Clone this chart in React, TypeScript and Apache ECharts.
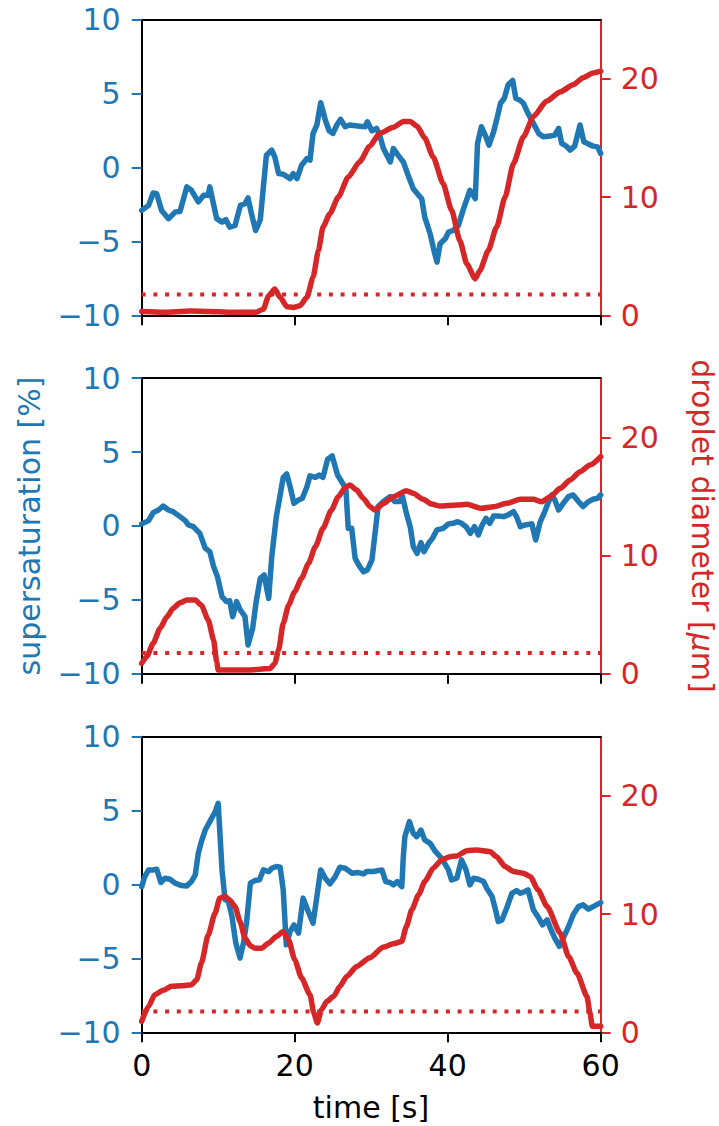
import React, { useEffect, useRef } from "react";
import * as echarts from "echarts";

const BLUE = "#1f77b4";
const RED = "#d62728";
const FONT = "DejaVu Sans";

const xTicks = [0, 20, 40, 60];
const satTicks = [-10, -5, 0, 5, 10];
const diamTicks = [0, 10, 20];
const threshold = 1.75;

const sat1: number[][] = [[0,-2.9],[0.9,-2.56],[1.5,-1.72],[1.96,-1.77],[2.6,-2.9],[3.5,-3.46],[4.4,-3.0],[5,-2.97],[5.9,-1.31],[6.5,-1.54],[7.4,-2.33],[8.1,-1.88],[8.7,-1.88],[8.9,-1.31],[9.8,-3.46],[10.5,-3.69],[11,-3.53],[11.5,-4.03],[12.2,-3.92],[12.9,-2.56],[13.5,-2.45],[13.9,-2.06],[14.4,-3.24],[14.9,-4.26],[15.5,-3.53],[16.3,0.84],[17,1.18],[17.4,0.72],[17.9,-0.41],[18.5,-0.45],[19.4,-0.75],[19.8,-0.41],[20.3,-0.75],[20.9,0.16],[21.6,0.61],[22,0.5],[22.4,2.31],[22.9,2.88],[23.4,4.39],[24,3.22],[24.5,2.49],[25,2.31],[25.5,2.88],[26,3.26],[26.6,2.76],[27.2,2.88],[28.5,2.8],[29.2,2.76],[29.5,3.1],[30.1,2.49],[30.7,2.65],[31.1,2.2],[31.6,1.29],[32.5,0.38],[32.9,1.29],[33.5,0.84],[34.2,0.38],[34.9,-0.63],[35.5,-1.43],[36.2,-1.88],[36.6,-2.1],[37,-3.35],[37.7,-4.48],[38.2,-5.6],[38.6,-6.4],[39,-5.16],[39.7,-4.8],[40.1,-4.37],[40.7,-4.26],[41.4,-3.92],[42,-2.9],[42.9,-1.54],[43.6,-2.1],[43.9,1.63],[44.4,2.76],[44.9,2.2],[45.4,1.52],[46,2.42],[46.5,3.44],[46.9,4.35],[47.4,4.69],[47.9,5.6],[48.5,5.89],[48.9,4.69],[49.4,4.57],[49.9,4.35],[50.5,3.67],[51.2,2.99],[51.9,2.31],[52.5,2.08],[53.4,2.13],[54,2.2],[54.5,2.65],[54.9,1.63],[55.5,1.45],[56,1.18],[56.6,1.45],[57.3,2.88],[57.8,1.74],[58.4,1.59],[59,1.45],[59.6,1.4],[60,0.95]];

const diam1: number[][] = [[0,0.33],[2.8,0.26],[6.3,0.36],[8.9,0.33],[11.5,0.26],[15,0.26],[15.9,0.52],[16.6,1.66],[17.4,2.22],[18.1,1.52],[19,0.72],[19.8,0.67],[20.7,0.81],[21.6,1.52],[22.4,3.22],[23.1,5.48],[23.7,7.47],[24.6,8.6],[25.7,10.0],[27,11.7],[28.5,13.0],[29.8,14.3],[31.1,15.4],[32.9,15.9],[34.2,16.4],[35.1,16.4],[36,16.0],[37,15.0],[38.1,13.4],[39.4,11.15],[40.5,8.9],[41.6,6.3],[42.5,4.35],[43.6,3.08],[44.2,3.78],[45.3,5.48],[46.4,7.47],[47.5,10.0],[48.6,12.85],[49.9,15.1],[51.2,16.8],[52.9,18.1],[54.7,18.9],[56.4,19.5],[57.7,20.1],[59,20.5],[60,20.65]];

const sat2: number[][] = [[0,0.14],[0.9,0.36],[1.5,0.9],[2.2,1.08],[2.8,1.35],[3.5,1.08],[4.1,0.97],[5,0.63],[5.7,0.36],[6.1,0.07],[6.75,-0.05],[7.6,-0.5],[8.3,-1.5],[8.9,-1.74],[9.4,-2.75],[9.9,-3.43],[10.5,-4.78],[11.1,-5.12],[11.5,-5.06],[11.9,-6.14],[12.4,-5.12],[12.9,-5.69],[13.5,-6.14],[13.9,-8.06],[14.5,-6.93],[15,-5.01],[15.5,-3.54],[16,-3.32],[16.6,-4.9],[17,-2.08],[17.6,0.63],[18.1,2.1],[18.5,3.29],[18.95,3.52],[19.4,2.66],[19.9,1.53],[20.5,1.76],[21,1.87],[21.6,2.66],[22,3.39],[22.7,3.29],[23.2,3.45],[23.7,3.29],[24.3,4.51],[24.9,4.74],[25.6,3.45],[26.4,2.78],[26.7,2.44],[27,-0.16],[27.45,-0.16],[27.9,-2.19],[28.5,-2.75],[29,-3.1],[29.5,-2.98],[30.1,-2.3],[30.5,-0.5],[30.9,1.31],[31.6,1.65],[32.5,1.99],[33.1,1.65],[33.7,1.65],[34.1,1.99],[34.6,0.86],[35.1,-0.05],[35.5,-1.4],[36,-1.85],[36.5,-1.13],[36.9,-1.74],[37.5,-1.17],[38,-0.84],[38.6,-0.27],[39.4,-0.16],[40.1,0.14],[40.7,0.18],[41.3,0.29],[41.8,0.18],[42.4,-0.05],[42.96,-0.5],[43.5,-0.05],[44,-0.61],[44.4,-0.05],[45,0.52],[45.5,0.18],[46,0.68],[46.6,0.68],[47.3,0.63],[47.9,0.75],[48.6,0.97],[49,0.63],[49.5,-0.05],[50.1,0.07],[51,0.14],[51.5,-0.95],[52.1,0.29],[52.6,0.86],[53.1,1.53],[53.6,2.1],[54,1.76],[54.5,1.08],[55.1,1.53],[55.8,1.99],[56.4,2.1],[57.1,1.65],[57.7,1.31],[58.4,1.65],[59,1.81],[59.6,1.87],[60,2.1]];

const diam2: number[][] = [[0,0.87],[0.65,1.44],[1.5,2.57],[2.4,3.84],[3.3,4.82],[4.1,5.53],[5,6.0],[5.9,6.23],[7,6.23],[7.8,5.8],[8.7,4.54],[9.4,2.85],[9.8,1.0],[10,0.31],[11.5,0.31],[13.7,0.31],[15.5,0.37],[16.8,0.45],[17.4,0.87],[17.9,2.0],[18.5,4.26],[19.2,5.8],[20,6.94],[20.9,8.07],[21.8,9.33],[22.7,10.74],[23.7,12.3],[24.8,13.85],[25.7,14.97],[26.6,15.76],[27.2,15.96],[28.1,15.54],[28.98,14.83],[29.85,14.13],[30.5,13.85],[31.6,14.4],[32.9,14.97],[34.6,15.48],[35.5,15.26],[36.8,14.75],[37.9,14.35],[39,14.18],[41.2,14.27],[42.5,14.33],[44.4,13.99],[46,14.13],[47.7,14.41],[49.5,14.75],[51.2,14.75],[52.3,14.55],[53.4,14.97],[54.7,15.68],[56,16.38],[57.3,17.09],[58.6,17.65],[60,18.36]];

const sat3: number[][] = [[0,-0.14],[0.4,0.54],[0.9,0.99],[1.5,0.99],[1.96,1.04],[2.5,0.14],[3.05,0.43],[3.7,0.36],[4.4,0.09],[5.2,-0.07],[5.9,-0.09],[6.5,0.2],[7,0.65],[7.4,2.12],[7.8,2.9],[8.3,3.69],[8.9,4.26],[9.6,4.93],[10,5.5],[10.2,3.69],[10.5,0.99],[10.9,-1.04],[11.3,-1.08],[11.8,-2.16],[12.3,-3.96],[12.85,-4.98],[13.3,-3.96],[13.7,-2.61],[14.2,0.09],[14.8,0.27],[15.4,0.32],[15.9,0.99],[16.6,0.88],[17,1.1],[17.6,1.22],[18.1,1.17],[18.5,-0.36],[18.9,-4.08],[19.4,-3.18],[19.9,-2.73],[20.5,-3.29],[21.1,-0.92],[21.6,-1.6],[22.4,-2.61],[22.9,-0.81],[23.4,0.99],[24,0.43],[24.6,0.05],[25.3,0.54],[25.9,1.17],[26.6,1.1],[27.5,0.77],[28.3,0.81],[29,0.72],[29.4,0.88],[30.3,0.88],[31.4,0.99],[31.9,0.2],[32.45,0.14],[32.9,-0.02],[33.4,0.2],[34,-0.14],[34.2,1.89],[34.4,3.24],[35,4.26],[35.5,3.47],[35.95,3.24],[36.5,3.69],[37,3.02],[37.7,2.79],[38.3,2.3],[39.2,1.78],[40.1,0.99],[40.5,0.32],[41.2,0.43],[41.8,1.67],[42.4,0.99],[42.9,-0.02],[43.4,0.43],[44,0.36],[44.7,0.2],[45.1,-0.25],[45.8,-0.81],[46.3,-1.82],[46.6,-2.5],[47.1,-2.39],[47.7,-1.6],[48.4,-0.59],[49,-0.41],[49.5,-0.59],[50.1,-0.47],[50.5,-0.36],[51.2,-1.71],[51.9,-2.27],[52.4,-2.73],[53,-2.39],[53.5,-3.06],[54,-3.63],[54.6,-4.19],[55.1,-3.63],[55.8,-2.84],[56.4,-2.05],[57.1,-1.49],[57.7,-1.37],[58.4,-1.67],[59,-1.49],[60,-1.22]];

const diam3: number[][] = [[0,0.93],[0.9,2.2],[1.7,3.18],[2.8,3.55],[3.9,3.89],[5.2,3.94],[6.5,4.03],[7.2,4.45],[7.8,5.86],[8.7,8.25],[9.6,10.1],[10.2,11.35],[10.9,11.5],[11.5,11.2],[12.2,10.64],[12.85,9.38],[13.5,7.97],[14.2,7.32],[14.8,7.12],[15.7,7.12],[16.6,7.55],[17.6,8.11],[18.5,8.53],[19.2,7.83],[20,6.14],[20.9,4.59],[22,3.18],[22.5,1.63],[22.96,0.79],[23.5,1.91],[24.2,2.62],[25.1,3.04],[25.9,3.89],[26.8,4.73],[28.1,5.57],[29.8,6.3],[31.6,7.21],[32.9,7.49],[34,7.69],[34.6,8.95],[35.3,10.36],[36.2,11.63],[37,12.75],[38.1,13.88],[39.2,14.58],[40.3,14.86],[41.2,14.92],[42.5,15.37],[43.8,15.43],[45.5,15.29],[46.4,14.86],[47.5,14.02],[48.6,13.6],[49.9,13.46],[50.8,13.18],[51.8,12.05],[53,10.64],[54.7,8.39],[55.8,6.42],[56.9,5.01],[58.2,3.04],[58.6,1.63],[58.9,0.51],[60,0.51]];

const satData = [sat1, sat2, sat3];
const diamData = [diam1, diam2, diam3];

const GRID_LEFT = 141.7;
const GRID_W = 459;
const GRID_TOPS = [19.8, 378.2, 736.8];
const GRID_H = 295.5;
const LINE_W = 5.5;

const fmt = (v: number) => (v < 0 ? "\u2212" + Math.abs(v) : String(v));

export default function App() {
  const ref = useRef<HTMLDivElement>(null);
  useEffect(() => {
    if (!ref.current) return;
    const chart = echarts.init(ref.current, null, { renderer: "svg" });
    const grid: any[] = [];
    const xAxis: any[] = [];
    const yAxis: any[] = [];
    const series: any[] = [];
    for (let i = 0; i < 3; i++) {
      grid.push({ left: GRID_LEFT, top: GRID_TOPS[i], width: GRID_W, height: GRID_H, containLabel: false });
      xAxis.push({
        gridIndex: i, type: "value", min: 0, max: 60, interval: 20, position: "bottom",
        axisLine: { show: true, onZero: false, lineStyle: { color: "#000", width: 2 } },
        axisTick: { show: true, inside: false, length: 10, lineStyle: { color: "#000", width: 2 }, customValues: xTicks },
        axisLabel: { show: i === 2, customValues: xTicks, color: "#000", fontSize: 30, fontFamily: FONT, margin: 18, formatter: fmt },
        splitLine: { show: false },
      });
      xAxis.push({
        gridIndex: i, type: "value", min: 0, max: 60, position: "top",
        axisLine: { show: true, onZero: false, lineStyle: { color: "#000", width: 2 } },
        axisTick: { show: false }, axisLabel: { show: false }, splitLine: { show: false },
      });
      yAxis.push({
        gridIndex: i, type: "value", min: -10, max: 10, interval: 5, position: "left",
        axisLine: { show: true, onZero: false, lineStyle: { color: "#000", width: 2 } },
        axisTick: { show: true, length: 10, lineStyle: { color: BLUE, width: 2 }, customValues: satTicks },
        axisLabel: { customValues: satTicks, color: BLUE, fontSize: 30, fontFamily: FONT, margin: 21, formatter: fmt },
        splitLine: { show: false },
      });
      yAxis.push({
        gridIndex: i, type: "value", min: 0, max: 25, interval: 10, position: "right",
        axisLine: { show: true, onZero: false, lineStyle: { color: RED, width: 2 } },
        axisTick: { show: true, length: 10, lineStyle: { color: RED, width: 2 }, customValues: diamTicks },
        axisLabel: { customValues: diamTicks, color: RED, fontSize: 30, fontFamily: FONT, margin: 20, formatter: fmt },
        splitLine: { show: false },
      });
      series.push({
        type: "line", xAxisIndex: i * 2, yAxisIndex: i * 2 + 1, symbol: "none", silent: true, z: 2,
        data: [[0, threshold], [60, threshold]],
        lineStyle: { color: RED, width: 4, type: [4, 7.7], cap: "butt" },
      });
      series.push({
        type: "line", xAxisIndex: i * 2, yAxisIndex: i * 2, symbol: "none", silent: true, z: 3,
        data: satData[i], clip: true,
        lineStyle: { color: BLUE, width: LINE_W, cap: "round", join: "round" },
      });
      series.push({
        type: "line", xAxisIndex: i * 2, yAxisIndex: i * 2 + 1, symbol: "none", silent: true, z: 4,
        data: diamData[i], clip: true, smooth: 0.2, smoothMonotone: "x",
        lineStyle: { color: RED, width: LINE_W, cap: "round", join: "round" },
      });
    }
    chart.setOption({
      animation: false,
      backgroundColor: "#fff",
      grid, xAxis, yAxis, series,
      graphic: [
        {
          type: "text", x: 29, y: 526, rotation: Math.PI / 2,
          style: { text: "supersaturation [%]", fill: BLUE, fontSize: 30, fontFamily: FONT, align: "center", verticalAlign: "middle", textAlign: "center", textVerticalAlign: "middle" },
        },
        {
          type: "text", x: 702, y: 526, rotation: -Math.PI / 2,
          style: {
            text: "droplet diameter [{mu|\u03bc}m]", fill: RED, fontSize: 30, fontFamily: FONT,
            align: "center", verticalAlign: "middle", textAlign: "center", textVerticalAlign: "middle",
            rich: { mu: { fontStyle: "italic", fontSize: 30, fontFamily: FONT, fill: RED, color: RED } },
          },
        },
        {
          type: "text", x: 371, y: 1107,
          style: { text: "time [s]", fill: "#000", fontSize: 30, fontFamily: FONT, align: "center", verticalAlign: "middle", textAlign: "center", textVerticalAlign: "middle" },
        },
      ],
    });
    return () => chart.dispose();
  }, []);
  return <div ref={ref} style={{ position: "absolute", left: 0, top: 0, width: 719, height: 1126 }} />;
}
